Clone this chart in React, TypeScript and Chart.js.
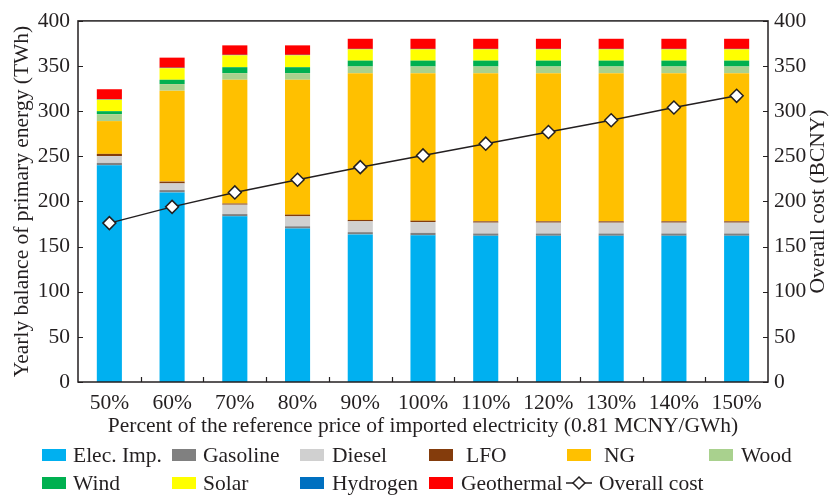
import React, { useEffect, useRef } from 'react';
import { Chart, registerables } from 'chart.js';

Chart.register(...registerables);

const categories = ['50%', '60%', '70%', '80%', '90%', '100%', '110%', '120%', '130%', '140%', '150%'];
const elecImp = [240, 210, 183.5, 170, 163.5, 162.5, 162, 162, 162, 162, 162];
const gasoline = [2.7, 2.6, 2.5, 2.5, 2.5, 2.7, 2.5, 2.5, 2.5, 2.5, 2.5];
const diesel = [7.5, 7.4, 10.4, 11, 12, 12, 12, 12, 12, 12, 12];
const lfo = [2.5, 2, 1.3, 1.9, 1.5, 1.5, 1.5, 1.5, 1.5, 1.5, 1.5];
const ng = [36.3, 100.7, 137.1, 149.4, 162.6, 163.4, 164.1, 164.1, 164.1, 164.1, 164.1];
const wood = [7.7, 7.3, 7.3, 7.3, 7.4, 7.4, 7.4, 7.4, 7.4, 7.4, 7.4];
const wind = [3.3, 4.8, 6.6, 6.6, 6.5, 6.5, 6.5, 6.5, 6.5, 6.5, 6.5];
const solar = [12.7, 12.8, 13.2, 13.2, 12.5, 12.5, 12.5, 12.5, 12.5, 12.5, 12.5];
const hydrogen = [0.5, 0.5, 0.5, 0.5, 0.5, 0.5, 0.5, 0.5, 0.5, 0.5, 0.5];
const geothermal = [11.1, 11.2, 10.5, 10.5, 11.2, 11.2, 11.2, 11.2, 11.2, 11.2, 11.2];
const overallCost = [176, 194, 210, 224, 238, 251, 264, 277, 290, 304, 317];

const axisMin = 0;
const axisMax = 400;
const axisStep = 50;

const xTitle = 'Percent of the reference price of imported electricity (0.81 MCNY/GWh)';
const yTitle = 'Yearly balance of primary energy (TWh)';
const y1Title = 'Overall cost (BCNY)';

const INK = '#231f20';
const FONT = "'Liberation Serif', 'Times New Roman', serif";
const FS = 21.5;

const barSeries = [
  { label: 'Elec. Imp.', data: elecImp, color: '#00b0f0' },
  { label: 'Gasoline', data: gasoline, color: '#808080' },
  { label: 'Diesel', data: diesel, color: '#d0d0d0' },
  { label: 'LFO', data: lfo, color: '#843c0c' },
  { label: 'NG', data: ng, color: '#ffc000' },
  { label: 'Wood', data: wood, color: '#a9d18e' },
  { label: 'Wind', data: wind, color: '#00b050' },
  { label: 'Solar', data: solar, color: '#ffff00' },
  { label: 'Hydrogen', data: hydrogen, color: '#0070c0' },
  { label: 'Geothermal', data: geothermal, color: '#ff0000' },
];

const legendBoxX = [42, 172, 300, 429, 567, 709, 42, 172, 300, 429];
const legendTextX = [73, 203, 332, 466, 604, 741, 73, 203, 332, 461];
const legendRowY = [455, 483];

const framePlugin = {
  id: 'framePlugin',
  afterDraw(chart: any) {
    const { ctx, chartArea: a, scales } = chart;
    ctx.save();
    ctx.strokeStyle = INK;
    ctx.lineWidth = 1.5;
    ctx.strokeRect(a.left, a.top, a.right - a.left, a.bottom - a.top);
    ctx.lineWidth = 1.2;
    ctx.beginPath();
    const y = scales.y;
    const y1 = scales.y1;
    const x = scales.x;
    y.ticks.forEach((t: any) => {
      const py = Math.round(y.getPixelForValue(t.value)) + 0.5;
      ctx.moveTo(a.left, py);
      ctx.lineTo(a.left + 5, py);
    });
    y1.ticks.forEach((t: any) => {
      const py = Math.round(y1.getPixelForValue(t.value)) + 0.5;
      ctx.moveTo(a.right, py);
      ctx.lineTo(a.right - 5, py);
    });
    for (let i = 1; i < x.ticks.length; i++) {
      const px = Math.round((x.getPixelForTick(i - 1) + x.getPixelForTick(i)) / 2) + 0.5;
      ctx.moveTo(px, a.bottom);
      ctx.lineTo(px, a.bottom - 5);
    }
    ctx.stroke();
    // right axis title, reading bottom-to-top like the left one
    ctx.fillStyle = INK;
    ctx.font = `${FS}px ${FONT}`;
    ctx.textAlign = 'center';
    ctx.textBaseline = 'middle';
    ctx.translate(y1.right - 15, (a.top + a.bottom) / 2);
    ctx.rotate(-Math.PI / 2);
    ctx.fillText(y1Title, 0, 0);
    ctx.restore();
  },
};

export default function App() {
  const canvasRef = useRef<HTMLCanvasElement | null>(null);

  useEffect(() => {
    if (!canvasRef.current) return;
    const fontBase = { family: FONT, size: FS };
    const chart = new Chart(canvasRef.current, {
      type: 'bar',
      data: {
        labels: categories,
        datasets: [
          {
            type: 'line',
            label: 'Overall cost',
            data: overallCost,
            yAxisID: 'y1',
            borderColor: INK,
            borderWidth: 1.5,
            pointStyle: 'rectRot',
            pointRadius: 6.5,
            pointBackgroundColor: '#ffffff',
            pointBorderColor: INK,
            pointBorderWidth: 1.5,
            tension: 0,
            order: 0,
          } as any,
          ...barSeries.map((s) => ({
            type: 'bar',
            label: s.label,
            data: s.data,
            backgroundColor: s.color,
            borderWidth: 0,
            yAxisID: 'y',
            stack: 'energy',
            barPercentage: 0.4,
            categoryPercentage: 1,
            order: 1,
          })),
        ],
      },
      options: {
        animation: false,
        responsive: true,
        maintainAspectRatio: false,
        layout: { padding: { top: 19, bottom: 56, left: 0, right: 0 } },
        plugins: {
          legend: { display: false },
          tooltip: { enabled: false },
        },
        scales: {
          x: {
            stacked: true,
            grid: { display: false, drawTicks: false },
            border: { display: false },
            ticks: { font: fontBase, color: INK, padding: 8 },
            title: {
              display: true,
              text: xTitle,
              font: fontBase,
              color: INK,
              padding: { top: 0, bottom: 1 },
            },
            afterFit: (s: any) => {
              s.height = 58;
            },
          },
          y: {
            stacked: true,
            position: 'left',
            min: axisMin,
            max: axisMax,
            grid: { display: false, drawTicks: false },
            border: { display: false },
            ticks: { stepSize: axisStep, font: fontBase, color: INK, padding: 8 },
            title: {
              display: true,
              text: yTitle,
              font: fontBase,
              color: INK,
              padding: { top: 9, bottom: 0 },
            },
            afterFit: (s: any) => {
              s.width = 78;
            },
          },
          y1: {
            stacked: false,
            position: 'right',
            min: axisMin,
            max: axisMax,
            grid: { display: false, drawTicks: false },
            border: { display: false },
            ticks: { stepSize: axisStep, font: fontBase, color: INK, padding: 6 },
            title: { display: false },
            afterFit: (s: any) => {
              s.width = 65;
            },
          },
        },
      } as any,
      plugins: [framePlugin],
    });
    return () => chart.destroy();
  }, []);

  const textStyle = (x: number, cy: number): React.CSSProperties => ({
    position: 'absolute',
    left: x,
    top: cy - 13,
    height: 26,
    lineHeight: '26px',
    fontFamily: FONT,
    fontSize: FS,
    color: INK,
    whiteSpace: 'nowrap',
  });

  return (
    <div style={{ position: 'absolute', left: 0, top: 0, width: 833, height: 496, background: '#ffffff' }}>
      <canvas ref={canvasRef} />
      {barSeries.map((s, i) => {
        const cy = legendRowY[i < 6 ? 0 : 1];
        return (
          <React.Fragment key={s.label}>
            <div
              style={{
                position: 'absolute',
                left: legendBoxX[i],
                top: cy - 6,
                width: 24,
                height: 12,
                background: s.color,
              }}
            />
            <div style={textStyle(legendTextX[i], cy)}>{s.label}</div>
          </React.Fragment>
        );
      })}
      <svg
        style={{ position: 'absolute', left: 565, top: legendRowY[1] - 8 }}
        width={28}
        height={16}
      >
        <line x1={1} y1={8} x2={27} y2={8} stroke={INK} strokeWidth={1.5} />
        <polygon points="14,2 20,8 14,14 8,8" fill="#ffffff" stroke={INK} strokeWidth={1.5} />
      </svg>
      <div style={textStyle(599, legendRowY[1])}>Overall cost</div>
    </div>
  );
}
